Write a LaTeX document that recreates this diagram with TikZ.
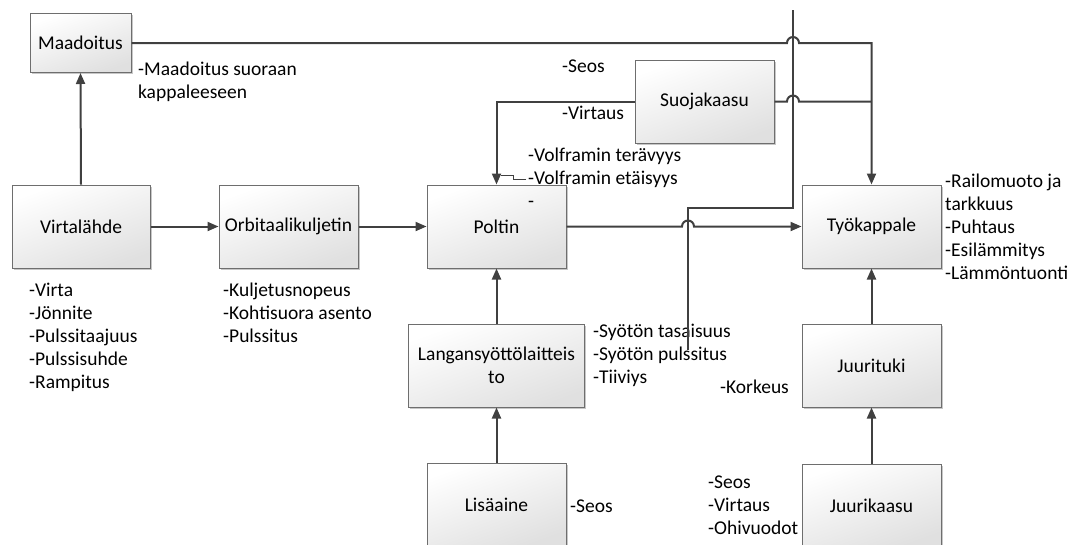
\documentclass[tikz,border=0pt]{standalone}
\usepackage{fontspec}
\setmainfont{Carlito}
\usetikzlibrary{arrows.meta,shadows}
\definecolor{edge}{RGB}{64,64,64}
\definecolor{boxline}{RGB}{110,110,110}
\definecolor{boxlow}{RGB}{224,224,224}
\tikzset{
  txt/.style={font=\fontsize{19.5}{23}\selectfont},
  blk/.style={txt, draw=boxline, line width=1pt, top color=white, bottom color=boxlow,
    shading angle=20, drop shadow={shadow xshift=1.8pt, shadow yshift=-1.8pt, opacity=0.22, fill=black},
    inner sep=0pt, align=center, minimum width=139pt, minimum height=83pt},
  lbl/.style={txt, anchor=north west, inner sep=0pt, align=left},
  wire/.style={draw=edge, line width=2pt},
  conn/.style={wire, -{Triangle[length=11pt,width=9pt]}},
  thinwire/.style={draw=edge, line width=1.4pt},
  callout/.style={draw=edge, line width=1pt},
}
\begin{document}
\begin{tikzpicture}[x=1pt,y=-1pt]
\useasboundingbox (0,0) rectangle (1075,544);

% process blocks
\node[blk, minimum width=101pt, minimum height=59pt] (maa) at (80.5,43) {Maadoitus};
\node[blk, minimum width=138pt] (vir) at (81,226.5) {Virtalähde};
\node[blk] (orb) at (288.5,226.5) {Orbitaalikuljetin};
\node[blk] (pol) at (496.5,226.5) {Poltin};
\node[blk] (tyo) at (871.5,226.5) {Työkappale};
\node[blk] (suo) at (704.5,101.5) {Suojakaasu};
\node[blk, minimum width=176pt] (lan) at (496.5,365.5) {Langansyöttölaitteis\\to};
\node[blk] (juu) at (871.5,365.5) {Juurituki};
\node[blk] (lis) at (496.5,504.5) {Lisäaine};
\node[blk] (jka) at (871.5,505.5) {Juurikaasu};

% parameter lists
\node[lbl] (lmaa) at (138,58.9) {\strut-Maadoitus suoraan\\kappaleeseen};
\node[lbl] (lseos) at (562,55.9) {\strut-Seos};
\node[lbl] (lvirt) at (562,102.9) {\strut-Virtaus};
\node[lbl] (lvol) at (528,144.9) {\strut-Volframin terävyys\\-Volframin etäisyys\\-};
\node[lbl] (lvir) at (29,279.9) {\strut-Virta\\-Jönnite\\-Pulssitaajuus\\-Pulssisuhde\\-Rampitus};
\node[lbl] (lorb) at (223,279.9) {\strut-Kuljetusnopeus\\-Kohtisuora asento\\-Pulssitus};
\node[lbl] (llan) at (593,320.9) {\strut-Syötön tasaisuus\\-Syötön pulssitus\\-Tiiviys};
\node[lbl] (lkor) at (720,376.9) {\strut-Korkeus};
\node[lbl] (llis) at (570,495.9) {\strut-Seos};
\node[lbl] (ljka) at (708,471.9) {\strut-Seos\\-Virtaus\\-Ohivuodot};
\node[lbl] (ltyo) at (945,170.9) {\strut-Railomuoto ja\\tarkkuus\\-Puhtaus\\-Esilämmitys\\-Lämmöntuonti};

% free-standing wire
\coordinate (wt) at (793,10);
\coordinate (wb) at (688,350);
\draw[thinwire] (wt) -- (wt |- 0,208) -- (wb |- 0,208) -- (wb);

% connectors
\draw[conn] (vir.north) -- (maa.south);
\draw[conn] (vir.east) -- (orb.west);
\draw[conn] (orb.east) -- (pol.west);
\draw[conn] (pol.east) -- (682,226.5) arc[start angle=180,end angle=0,radius=6pt] -- (tyo.west);
\draw[conn] (maa.east) -- (787,43) arc[start angle=180,end angle=0,radius=6pt]
  -- (tyo.north |- maa.east) -- (tyo.north);
\draw[wire] (suo.east) -- (787,101.5) arc[start angle=180,end angle=0,radius=6pt]
  -- (tyo.north |- suo.east);
\draw[conn] (suo.west) -- (suo.west -| pol.north) -- (pol.north);
\draw[conn] (lan.north) -- (pol.south);
\draw[conn] (lis.north) -- (lan.south);
\draw[conn] (juu.north) -- (tyo.south);
\draw[conn] (jka.north) -- (juu.south);

% callout from the electrode label
\coordinate (vc) at (526,179);
\coordinate (vt) at (501,175);
\draw[callout] (vc) -- (513,179) -- (513,175) -- (vt);
\end{tikzpicture}
\end{document}
